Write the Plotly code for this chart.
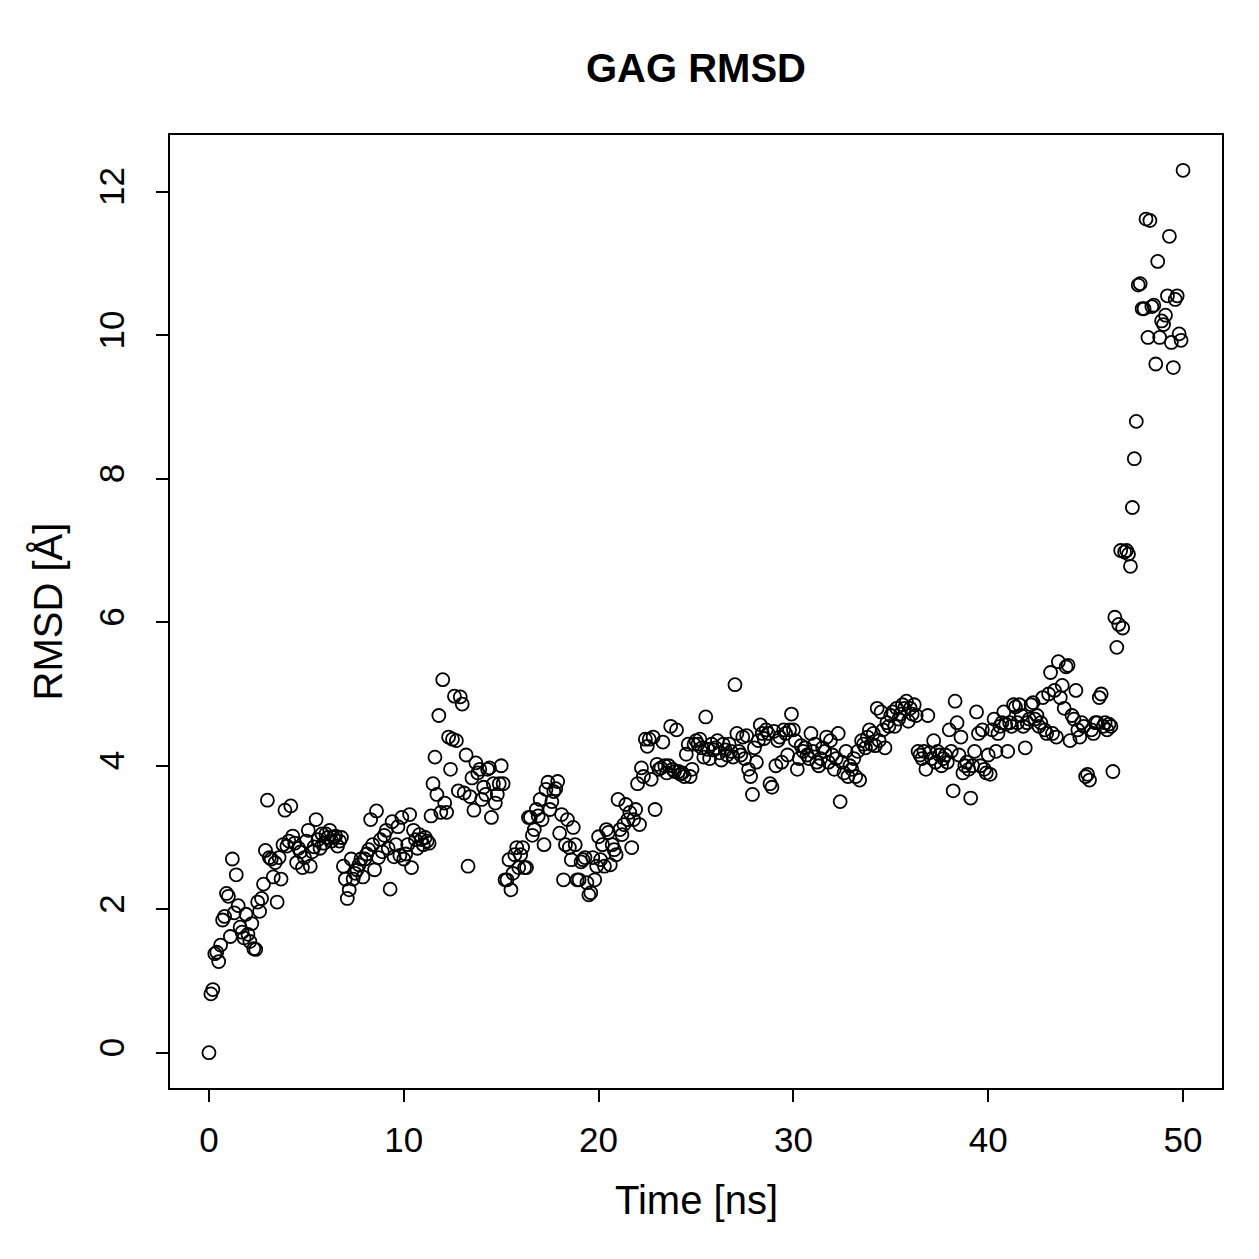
import plotly.graph_objects as go

time_ns = [round(i * 0.1, 1) for i in range(501)]

rmsd = (
    [0.00, 0.82, 0.88, 1.38, 1.40, 1.27, 1.50, 1.85, 1.90, 2.22] +
    [2.18, 1.62, 2.70, 1.95, 2.48, 2.05, 1.75, 1.68, 1.60, 1.93] +
    [1.65, 1.55, 1.80, 1.45, 1.44, 2.10, 1.97, 2.15, 2.35, 2.82] +
    [3.52, 2.72, 2.70, 2.45, 2.65, 2.10, 2.72, 2.42, 2.90, 3.38] +
    [2.88, 2.95, 3.44, 3.02, 2.92, 2.65, 2.85, 2.80, 2.58, 2.72] +
    [2.95, 3.10, 2.60, 2.80, 2.87, 3.25, 2.97, 2.85, 3.05, 2.92] +
    [3.05, 3.00, 3.10, 2.95, 3.00, 3.02, 2.88, 2.95, 3.00, 2.60] +
    [2.42, 2.15, 2.27, 2.70, 2.42, 2.50, 2.55, 2.62, 2.70, 2.45] +
    [2.70, 2.77, 2.83, 3.25, 2.90, 2.55, 3.37, 2.72, 2.97, 2.80] +
    [3.03, 3.10, 2.85, 2.28, 3.22, 2.73, 2.90, 3.15, 2.75, 3.28] +
    [2.70, 2.77, 2.90, 3.32, 2.58, 3.10, 2.97, 2.85, 3.04, 2.97] +
    [2.90, 3.00, 2.95, 2.92, 3.30, 3.75, 4.12, 3.60, 4.70, 3.35] +
    [5.20, 3.48, 3.35, 4.40, 3.95, 4.37, 4.97, 4.35, 3.65, 4.96] +
    [4.86, 3.62, 4.15, 2.60, 3.57, 3.83, 3.38, 4.04, 3.90, 3.95] +
    [3.53, 3.70, 3.60, 3.95, 3.97, 3.28, 3.75, 3.48, 3.60, 3.75] +
    [4.00, 3.75, 2.41, 2.41, 2.69, 2.27, 2.50, 2.76, 2.86, 2.58] +
    [2.76, 2.86, 2.58, 2.58, 3.28, 3.28, 3.03, 3.11, 3.39, 3.30] +
    [3.53, 3.25, 2.90, 3.67, 3.77, 3.39, 3.50, 3.64, 3.68, 3.78] +
    [3.06, 3.32, 2.41, 2.90, 3.25, 2.86, 2.69, 3.14, 2.90, 2.41] +
    [2.41, 2.66, 2.69, 2.72, 2.37, 2.20, 2.23, 2.72, 2.41, 2.60] +
    [3.01, 2.69, 2.90, 2.60, 3.11, 3.07, 2.62, 2.90, 2.83, 2.76] +
    [3.53, 3.11, 3.04, 3.18, 3.46, 3.25, 3.35, 2.86, 3.25, 3.39] +
    [3.75, 3.18, 3.97, 3.85, 4.37, 4.27, 4.37, 3.81, 4.40, 3.39] +
    [4.02, 3.95, 3.97, 4.33, 4.00, 3.90, 4.00, 4.55, 3.95, 3.92] +
    [4.50, 3.92, 3.88, 3.90, 3.85, 4.16, 4.30, 3.85, 3.95, 4.30] +
    [4.35, 4.30, 4.37, 4.25, 4.12, 4.68, 4.23, 4.10, 4.30, 4.22] +
    [4.25, 4.35, 4.18, 4.08, 4.30, 4.22, 4.15, 4.30, 4.20, 4.12] +
    [5.13, 4.45, 4.20, 4.15, 4.40, 4.10, 4.42, 3.95, 3.85, 3.60] +
    [4.25, 4.05, 4.35, 4.57, 4.45, 4.38, 4.50, 4.45, 3.75, 3.70] +
    [4.48, 4.00, 4.35, 4.40, 4.05, 4.50, 4.45, 4.15, 4.50, 4.72] +
    [4.50, 4.35, 3.95, 4.10, 4.28, 4.20, 4.25, 4.15, 4.10, 4.45] +
    [4.20, 4.30, 4.05, 4.00, 4.10, 4.25, 4.20, 4.40, 4.05, 4.35] +
    [4.15, 3.95, 4.10, 4.45, 3.50, 4.05, 3.90, 4.20, 3.85, 4.00] +
    [3.95, 4.10, 3.85, 4.20, 3.80, 4.35, 4.30, 4.25, 4.40, 4.50] +
    [4.30, 4.45, 4.28, 4.80, 4.35, 4.75, 4.50, 4.25, 4.60, 4.55] +
    [4.70, 4.75, 4.55, 4.80, 4.65, 4.72, 4.85, 4.80, 4.90, 4.62] +
    [4.80, 4.72, 4.85, 4.70, 4.20, 4.15, 4.10, 4.20, 3.95, 4.70] +
    [4.18, 4.10, 4.35, 4.05, 4.20, 4.15, 4.00, 4.10, 4.15, 4.05] +
    [4.50, 4.20, 3.65, 4.90, 4.60, 4.15, 4.40, 3.90, 4.00, 4.05] +
    [3.95, 3.55, 4.00, 4.20, 4.75, 4.45, 4.00, 4.50, 3.95, 3.90] +
    [4.15, 3.88, 4.50, 4.65, 4.20, 4.45, 4.55, 4.60, 4.75, 4.58] +
    [4.20, 4.60, 4.55, 4.85, 4.82, 4.60, 4.85, 4.70, 4.55, 4.25] +
    [4.60, 4.65, 4.85, 4.88, 4.65, 4.70, 4.55, 4.60, 4.95, 4.50] +
    [4.45, 5.00, 5.30, 4.45, 5.05, 4.40, 5.45, 4.95, 5.12, 4.80] +
    [5.38, 5.40, 4.35, 4.70, 4.65, 5.05, 4.50, 4.40, 4.60, 4.55] +
    [3.85, 3.88, 3.80, 4.50, 4.45, 4.60, 4.60, 4.95, 5.00, 4.55] +
    [4.60, 4.50, 4.58, 4.55, 3.92, 6.07, 5.65, 5.97, 7.00, 5.92] +
    [6.98, 7.00, 6.95, 6.78, 7.60, 8.28, 8.80, 10.70, 10.72, 10.37] +
    [10.37, 11.62, 9.97, 11.60, 10.40, 10.42, 9.60, 11.03, 9.97, 10.20] +
    [10.15, 10.28, 10.55, 11.38, 9.90, 9.55, 10.50, 10.55, 10.02, 9.93] +
    [12.30]
)

x_ticks = [0, 10, 20, 30, 40, 50]
y_ticks = [0, 2, 4, 6, 8, 10, 12]
title_text = "<b>GAG RMSD</b>"
x_label = "Time [ns]"
y_label = "RMSD [Å]"

FONT = "Liberation Sans, Arial, sans-serif"

fig = go.Figure()
fig.add_trace(go.Scatter(
    x=time_ns, y=rmsd, mode="markers",
    marker=dict(symbol="circle-open", size=13, color="black",
                line=dict(width=1.8, color="black")),
    showlegend=False, hoverinfo="x+y",
))

axis_common = dict(
    showgrid=False, zeroline=False, showline=True, linecolor="black",
    linewidth=2, mirror=True, ticks="outside", ticklen=12, tickwidth=2,
    tickcolor="black", tickfont=dict(family=FONT, size=35, color="black"),
)

fig.update_layout(
    width=1259, height=1259,
    margin=dict(l=170, r=37, t=135, b=171),
    paper_bgcolor="white", plot_bgcolor="white",
    xaxis=dict(range=[-2, 52], tickvals=x_ticks, ticklabelstandoff=8, **axis_common),
    yaxis=dict(range=[-0.492, 12.792], tickvals=y_ticks, tickangle=-90,
               ticklabelstandoff=18, **axis_common),
    annotations=[
        dict(text=title_text, xref="paper", yref="paper", x=0.5, y=1.0703,
             xanchor="center", yanchor="middle", showarrow=False,
             font=dict(family=FONT, size=40, color="black")),
        dict(text=x_label, xref="paper", yref="paper", x=0.5, y=-0.1175,
             xanchor="center", yanchor="middle", showarrow=False,
             font=dict(family=FONT, size=40, color="black")),
        dict(text=y_label, xref="paper", yref="paper", x=-0.116, y=0.5,
             xanchor="center", yanchor="middle", showarrow=False, textangle=-90,
             font=dict(family=FONT, size=40, color="black")),
    ],
)

fig.write_html("out.html")
